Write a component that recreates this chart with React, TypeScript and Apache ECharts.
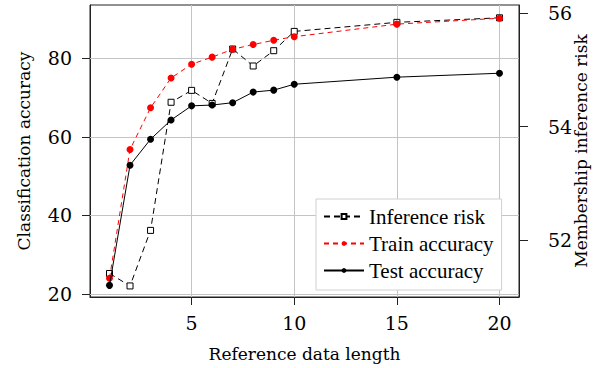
import React, { useEffect, useRef } from "react";
import * as echarts from "echarts";

const lengths = [1, 2, 3, 4, 5, 6, 7, 8, 9, 10, 15, 20];
const inferenceRisk = [51.41, 51.19, 52.17, 54.43, 54.64, 54.41, 55.37, 55.07, 55.34, 55.68, 55.84, 55.92];
const trainAccuracy = [24.0, 56.8, 67.4, 75.0, 78.5, 80.3, 82.3, 83.5, 84.6, 85.5, 88.7, 90.2];
const testAccuracy = [22.2, 52.8, 59.4, 64.3, 67.9, 68.1, 68.7, 71.4, 71.9, 73.4, 75.2, 76.2];
const xTicks = [5, 10, 15, 20];
const accTicks = [20, 40, 60, 80];
const riskTicks = [52, 54, 56];

const FONT = "Liberation Serif";
const AXIS_FONT = "DejaVu Serif";

export default function App() {
  const ref = useRef<HTMLDivElement>(null);
  useEffect(() => {
    if (!ref.current) return;
    const chart = echarts.init(ref.current, null, { renderer: "svg" });
    const pair = (ys: number[]) => lengths.map((x, i) => [x, ys[i]]);
    const axisLine = { show: true, lineStyle: { color: "#222", width: 1 } };
    const tickStyle = { show: true, inside: false, length: 8, lineStyle: { color: "#222", width: 1 } };
    const labelStyle = { color: "#000", fontSize: 19, fontFamily: AXIS_FONT };
    const nameStyle = { color: "#000", fontSize: 17, fontFamily: AXIS_FONT };
    chart.setOption({
      animation: false,
      grid: {
        left: 90,
        right: 85,
        top: 5,
        bottom: 71,
        containLabel: false,
        outerBoundsMode: "none",
        show: true,
        borderColor: "#222",
        borderWidth: 1,
        backgroundColor: "transparent",
      },
      legend: {
        data: ["Inference risk", "Train accuracy", "Test accuracy"],
        orient: "vertical",
        left: 316,
        top: 199,
        z: 20,
        itemWidth: 40,
        itemHeight: 6,
        itemGap: 6,
        padding: [7, 8, 9, 7],
        backgroundColor: "#fff",
        borderColor: "#d0d0d0",
        borderWidth: 1,
        borderRadius: 0,
        selectedMode: false,
        textStyle: { color: "#000", fontSize: 21, fontFamily: FONT },
      },
      xAxis: {
        type: "value",
        min: 0.05,
        max: 20.95,
        position: "bottom",
        axisLine,
        axisTick: { ...tickStyle, customValues: xTicks },
        axisLabel: { ...labelStyle, margin: 16, customValues: xTicks },
        splitLine: { show: false },
        name: "Reference data length",
        nameLocation: "middle",
        nameGap: 48,
        nameMoveOverlap: false,
        nameTextStyle: nameStyle,
      },
      yAxis: [
        {
          type: "value",
          position: "left",
          min: 19.24,
          max: 93.57,
          axisLine,
          axisTick: { ...tickStyle, customValues: accTicks },
          axisLabel: { ...labelStyle, margin: 18, customValues: accTicks },
          splitLine: { show: false },
          name: "Classification accuracy",
          nameLocation: "middle",
          nameGap: 58,
          nameMoveOverlap: false,
          nameTextStyle: nameStyle,
        },
        {
          type: "value",
          position: "right",
          min: 50.995,
          max: 56.146,
          axisLine,
          axisTick: { ...tickStyle, length: 9, customValues: riskTicks },
          axisLabel: { ...labelStyle, margin: 29, customValues: riskTicks },
          splitLine: { show: false },
          name: "Membership inference risk",
          nameLocation: "middle",
          nameGap: 53,
          nameMoveOverlap: false,
          nameTextStyle: nameStyle,
        },
      ],
      series: [
        {
          name: "grid",
          type: "line",
          xAxisIndex: 0,
          yAxisIndex: 0,
          data: pair(testAccuracy),
          symbol: "none",
          lineStyle: { width: 0, opacity: 0 },
          silent: true,
          z: 1,
          markLine: {
            silent: true,
            z: 1,
            symbol: ["none", "none"],
            label: { show: false },
            emphasis: { disabled: true },
            lineStyle: { color: "#c4c4c4", width: 1, type: "solid" },
            data: [
              ...xTicks.map((v) => ({ xAxis: v })),
              ...accTicks.map((v) => ({ yAxis: v })),
            ],
          },
        },
        {
          name: "Inference risk",
          type: "line",
          yAxisIndex: 1,
          data: pair(inferenceRisk),
          symbol: "rect",
          symbolSize: 6,
          itemStyle: { color: "#fff", borderColor: "#000", borderWidth: 1 },
          lineStyle: { color: "#000", width: 1, type: [6, 4] },
          z: 3,
        },
        {
          name: "Train accuracy",
          type: "line",
          yAxisIndex: 0,
          data: pair(trainAccuracy),
          symbol: "circle",
          symbolSize: 7,
          itemStyle: { color: "#ff0000" },
          lineStyle: { color: "#ff0000", width: 1, type: [5, 4] },
          z: 4,
        },
        {
          name: "Test accuracy",
          type: "line",
          yAxisIndex: 0,
          data: pair(testAccuracy),
          symbol: "circle",
          symbolSize: 7,
          itemStyle: { color: "#000" },
          lineStyle: { color: "#000", width: 1, type: "solid" },
          z: 5,
        },
      ],
    });
    return () => chart.dispose();
  }, []);
  return (
    <div
      ref={ref}
      style={{ position: "absolute", left: 0, top: 0, width: 604, height: 368, background: "#fff" }}
    />
  );
}
